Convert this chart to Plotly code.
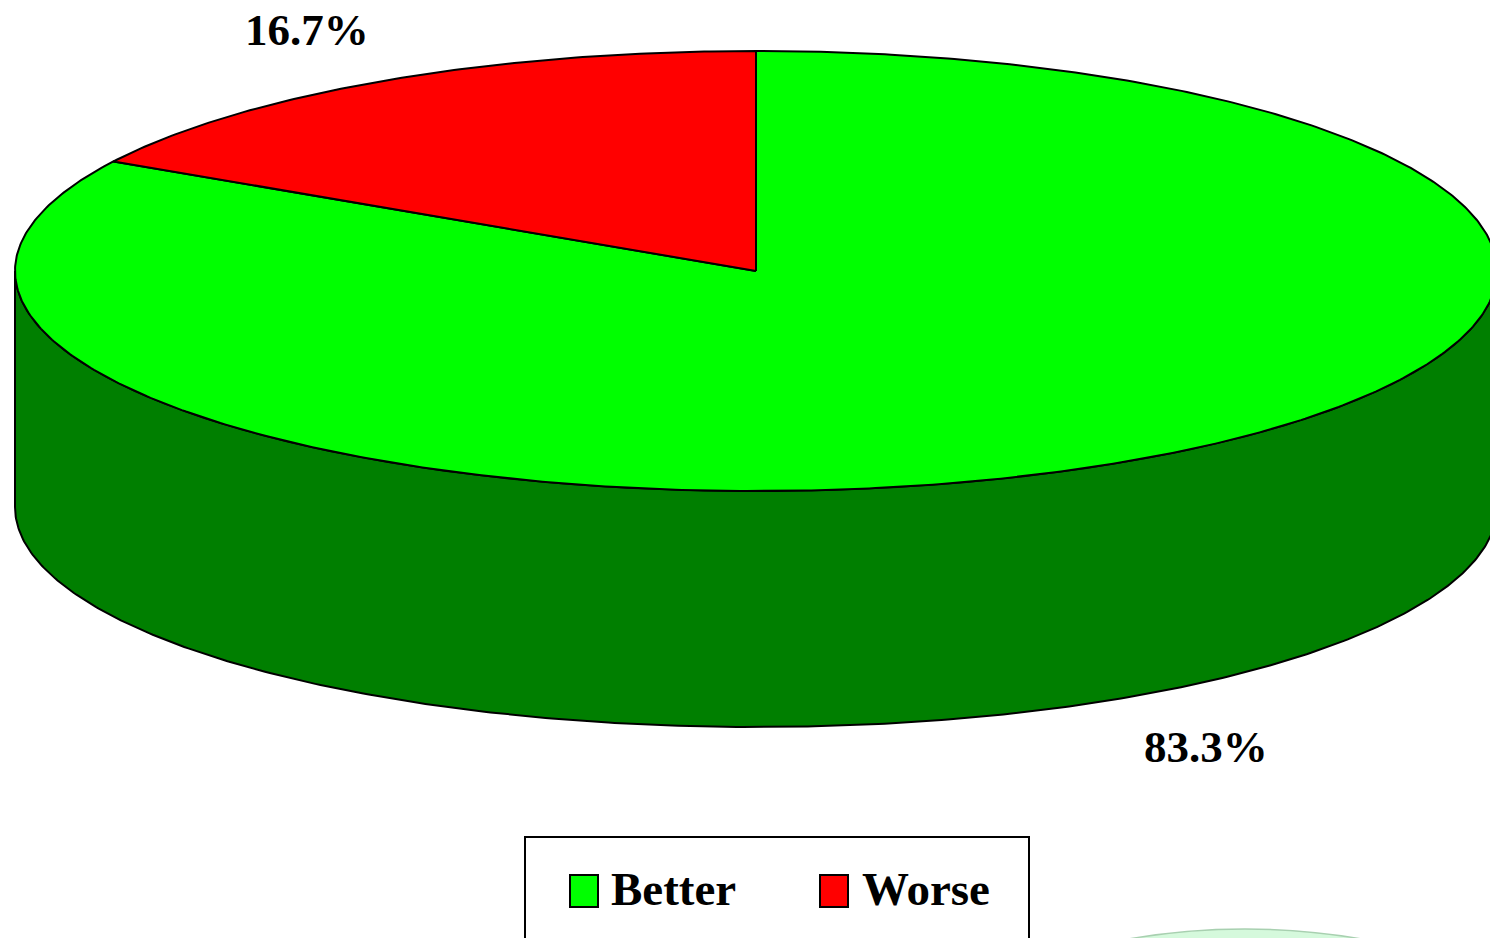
import numpy as np
import plotly.graph_objects as go

categories = ["Better", "Worse"]
shares = [83.3, 16.7]
top_colors = ["#00ff00", "#ff0000"]
side_color = "#007f00"

# Projection of the tilted pie, in page pixels (the axes span the page 1:1)
CX, CY, RX, RY, DEPTH = 756, 271, 741, 220, 236
W, H = 1490, 938
FONT = "Liberation Serif"


def project(theta, drop=0.0):
    """theta: degrees clockwise from 12 o'clock."""
    t = np.radians(theta)
    return CX + RX * np.sin(t), CY - RY * np.cos(t) + drop


def arc(a0, a1, drop=0.0):
    n = max(int(abs(a1 - a0) * 2), 2)
    return project(np.linspace(a0, a1, n + 1), drop)


total = sum(shares)

fig = go.Figure()

# Extruded wall: the front half of the rim, dropped by the pie's depth
tx, ty = arc(90, 270)
bx, by = arc(270, 90, DEPTH)
fig.add_trace(go.Scatter(
    x=np.r_[tx, bx, tx[0]], y=np.r_[ty, by, ty[0]],
    mode="lines", fill="toself", fillcolor=side_color,
    line=dict(color="black", width=2), hoverinfo="skip", showlegend=False,
))

# Top faces: slices run clockwise from 12 o'clock, Better first
start = 0.0
for name, share, color in zip(categories, shares, top_colors):
    sweep = 360 * share / total
    ax, ay = arc(start, start + sweep)
    fig.add_trace(go.Scatter(
        x=np.r_[CX, ax, CX], y=np.r_[CY, ay, CY],
        mode="lines", fill="toself", fillcolor=color,
        line=dict(color="black", width=2), name=name,
        hoverinfo="name", showlegend=False,
    ))
    start += sweep

shapes = [
    # faint fragment of a watermark at the bottom edge
    dict(type="circle", xref="x", yref="y", x0=1245 - 677, x1=1245 + 677,
         y0=929, y1=929 + 2 * 677, fillcolor="#d5f9dc",
         line=dict(color="#a8d0b0", width=1.5), layer="below"),
    # legend frame, running off the bottom of the page
    dict(type="rect", xref="x", yref="y", x0=525, x1=1029, y0=837, y1=970,
         fillcolor="white", line=dict(color="black", width=2), layer="below"),
]
annotations = []

for cat, color, x0, tx0 in zip(categories, top_colors, [570, 820], [609, 860]):
    shapes.append(dict(type="rect", xref="x", yref="y", x0=x0, x1=x0 + 28,
                       y0=875, y1=907, fillcolor=color,
                       line=dict(color="black", width=2)))
    annotations.append(dict(x=tx0, y=889, xref="x", yref="y", text=f"<b>{cat}</b>",
                            showarrow=False, xanchor="left", yanchor="middle",
                            font=dict(family=FONT, size=47, color="black")))

for share, (lx, ly) in zip(shares, [(307, 30), (1206, 747)][::-1]):
    annotations.append(dict(x=lx, y=ly, xref="x", yref="y", text=f"<b>{share:.1f}%</b>",
                            showarrow=False, xanchor="center", yanchor="middle",
                            font=dict(family=FONT, size=45, color="black")))

fig.update_layout(
    width=W, height=H, margin=dict(l=0, r=0, t=0, b=0),
    paper_bgcolor="white", plot_bgcolor="white", showlegend=False,
    xaxis=dict(range=[0, W], visible=False, fixedrange=True),
    yaxis=dict(range=[H, 0], visible=False, fixedrange=True),
    shapes=shapes, annotations=annotations,
)

fig.write_html("out.html", config={"displayModeBar": False},
               post_script="document.body.style.margin='0';document.documentElement.style.overflow='hidden';")
